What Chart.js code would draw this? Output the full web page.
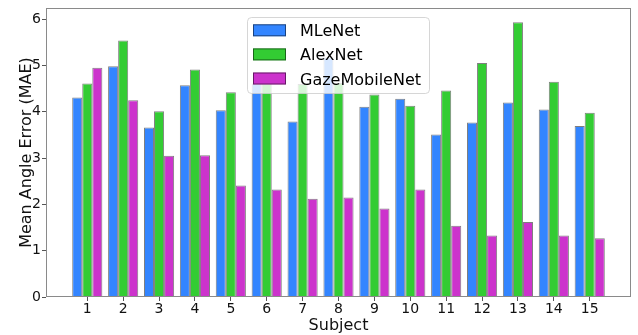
<!DOCTYPE html>
<html>
<head>
<meta charset="utf-8">
<script src="https://cdn.jsdelivr.net/npm/chart.js@4.4.1/dist/chart.umd.min.js"></script>
<style>
  html, body { margin: 0; padding: 0; background: #ffffff; }
  canvas { display: block; }
</style>
</head>
<body>
<canvas id="chart" width="638" height="335"></canvas>
<script>
// Per-subject mean angle error of the three gaze models
const subjects = ['1', '2', '3', '4', '5', '6', '7', '8', '9', '10', '11', '12', '13', '14', '15'];
const mleNet = [4.31, 4.98, 3.66, 4.57, 4.03, 4.61, 3.79, 5.17, 4.11, 4.28, 3.51, 3.77, 4.20, 4.05, 3.69];
const alexNet = [4.61, 5.54, 4.01, 4.91, 4.42, 4.61, 4.60, 4.62, 4.37, 4.13, 4.46, 5.05, 5.93, 4.65, 3.98];
const gazeMobileNet = [4.95, 4.25, 3.05, 3.06, 2.41, 2.32, 2.12, 2.15, 1.91, 2.32, 1.54, 1.33, 1.62, 1.33, 1.27];
const yTicks = [0, 1, 2, 3, 4, 5, 6];

const FONT_FAMILY = "'DejaVu Sans', 'Liberation Sans', sans-serif";
const EDGE = 'rgba(0, 0, 0, 0.5)';

function toPoints(values) {
  return values.map((v, i) => ({ x: i + 1, y: v }));
}

// Box frame round the plotting area (all four spines)
const framePlugin = {
  id: 'frame',
  afterDatasetsDraw(chart) {
    const { ctx, chartArea } = chart;
    const l = Math.round(chartArea.left), r = Math.round(chartArea.right);
    const t = Math.round(chartArea.top), b = Math.round(chartArea.bottom);
    ctx.save();
    ctx.strokeStyle = '#8a8a8a';
    ctx.lineWidth = 1;
    ctx.strokeRect(l + 0.5, t + 0.5, r - l - 1, b - t - 1);
    ctx.restore();
  }
};

// Semi-transparent legend box drawn on top of the bars
const overlayLegend = {
  id: 'overlayLegend',
  afterDraw(chart) {
    const { ctx } = chart;
    const box = { x: 247, y: 17, w: 182, h: 76, r: 4 };
    ctx.save();
    ctx.beginPath();
    ctx.roundRect(box.x + 0.5, box.y + 0.5, box.w, box.h, box.r);
    ctx.fillStyle = 'rgba(255, 255, 255, 0.8)';
    ctx.fill();
    ctx.strokeStyle = 'rgba(204, 204, 204, 0.8)';
    ctx.lineWidth = 1;
    ctx.stroke();

    ctx.font = '16px ' + FONT_FAMILY;
    ctx.textAlign = 'left';
    ctx.textBaseline = 'alphabetic';
    chart.data.datasets.forEach((ds, i) => {
      const baseline = 36.3 + i * 24.1;
      const sy = baseline - 12;
      ctx.fillStyle = ds.backgroundColor;
      ctx.fillRect(253, sy, 33, 12);
      ctx.strokeStyle = EDGE;
      ctx.strokeRect(253.5, sy + 0.5, 32, 11);
      ctx.fillStyle = '#000000';
      ctx.fillText(ds.label, 300, baseline);
    });
    ctx.restore();
  }
};

function makeDataset(label, values, color) {
  return {
    label: label,
    data: toPoints(values),
    backgroundColor: color,
    borderColor: EDGE,
    borderWidth: 1,
    categoryPercentage: 0.84,
    barPercentage: 1.0
  };
}

new Chart(document.getElementById('chart'), {
  type: 'bar',
  data: {
    datasets: [
      makeDataset('MLeNet', mleNet, '#3385ff'),
      makeDataset('AlexNet', alexNet, '#33cc33'),
      makeDataset('GazeMobileNet', gazeMobileNet, '#cc33cc')
    ]
  },
  options: {
    responsive: false,
    animation: false,
    devicePixelRatio: 1,
    layout: { padding: { left: 0, right: 7, top: 8, bottom: 0 } },
    plugins: {
      legend: { display: false },
      tooltip: { enabled: false }
    },
    scales: {
      x: {
        type: 'linear',
        min: -0.15,
        max: 16.15,
        bounds: 'data',
        offset: false,
        afterBuildTicks(scale) {
          scale.ticks = subjects.map((s, i) => ({ value: i + 1 }));
        },
        afterFit(scale) {
          scale.height = 38;
          scale.paddingLeft = 0;
          scale.paddingRight = 0;
        },
        ticks: {
          autoSkip: false,
          maxRotation: 0,
          padding: 0,
          color: '#111111',
          font: { family: FONT_FAMILY, size: 14 },
          callback: (value, index) => subjects[index]
        },
        grid: {
          offset: false,
          drawOnChartArea: false,
          drawTicks: true,
          tickLength: 4,
          color: '#555555'
        },
        border: { display: false },
        title: {
          display: true,
          text: 'Subject',
          color: '#111111',
          font: { family: FONT_FAMILY, size: 16 },
          padding: { top: 0, bottom: 0 }
        }
      },
      y: {
        min: 0,
        max: 6.24,
        afterBuildTicks(scale) {
          scale.ticks = yTicks.map(v => ({ value: v }));
        },
        afterFit(scale) {
          scale.width = 46;
          scale.paddingTop = 0;
          scale.paddingBottom = 0;
        },
        ticks: {
          padding: 1,
          color: '#111111',
          font: { family: FONT_FAMILY, size: 14 },
          callback: (value) => String(value)
        },
        grid: {
          drawOnChartArea: false,
          drawTicks: true,
          tickLength: 4,
          color: '#555555'
        },
        border: { display: false },
        title: {
          display: true,
          text: 'Mean Angle Error (MAE)',
          color: '#111111',
          font: { family: FONT_FAMILY, size: 16 },
          padding: { top: 17, bottom: 0 }
        }
      }
    }
  },
  plugins: [framePlugin, overlayLegend]
});
</script>
</body>
</html>
